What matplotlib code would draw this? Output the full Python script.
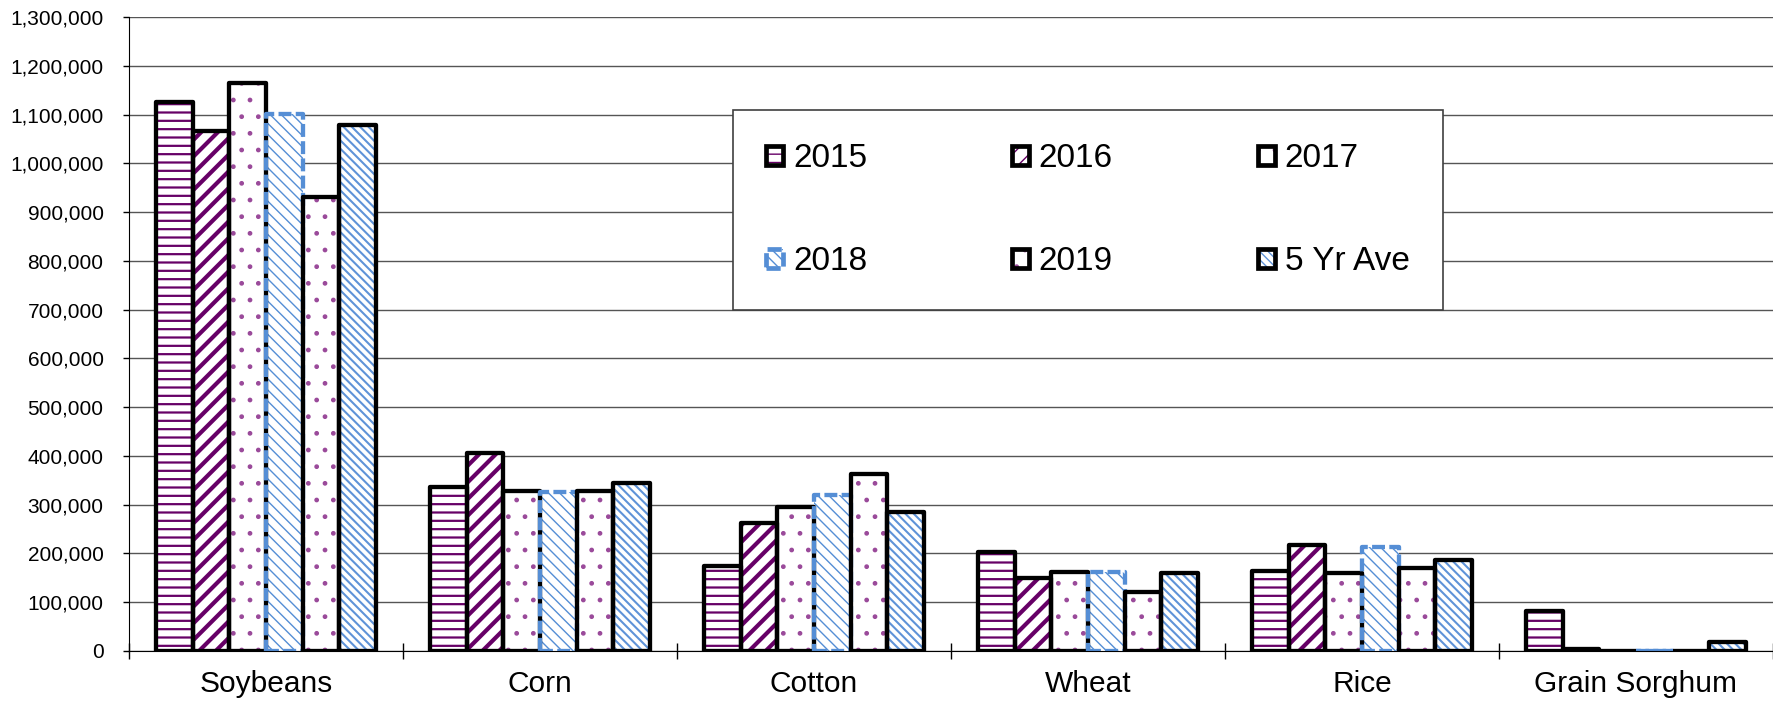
import numpy as np
import matplotlib
matplotlib.use("Agg")
import matplotlib.pyplot as plt
from matplotlib.patches import Patch
from matplotlib.legend_handler import HandlerTuple
from matplotlib.ticker import FuncFormatter

crops = ["Soybeans", "Corn", "Cotton", "Wheat", "Rice", "Grain Sorghum"]
years = ["2015", "2016", "2017", "2018", "2019", "5 Yr Ave"]
v2015 = [1125000, 337000, 175000, 203000, 165000, 82000]
v2016 = [1067000, 405000, 263000, 149000, 218000, 5000]
v2017 = [1165000, 328000, 295000, 163000, 160000, 1000]
v2018 = [1102000, 326000, 320000, 163000, 214000, 1000]
v2019 = [930000, 328000, 363000, 121000, 170000, 1000]
v5yr = [1079000, 345000, 284000, 160000, 186000, 18000]
series = [v2015, v2016, v2017, v2018, v2019, v5yr]

purple = "#660066"
dotc = "#9a4a9a"
blue = "#558ed5"
# hatch, hatch colour, hatch width, edge colour, edge style
styles = [
    ("--", purple, 1.6, "black", "solid"),
    ("//", purple, 3.0, "black", "solid"),
    (".", dotc, 1.0, "black", "solid"),
    ("\\\\\\", blue, 1.0, blue, (0, (3, 1))),
    (".", dotc, 1.0, "black", "solid"),
    ("\\\\\\\\", "#5f93d8", 1.5, "black", "solid"),
]

plt.rcParams["font.family"] = ["Liberation Sans", "DejaVu Sans"]

fig = plt.figure(figsize=(17.73, 7.04), dpi=100)
ax = fig.add_axes([129 / 1773, 1 - 651 / 704, (1773 - 129) / 1773, (651 - 17) / 704])

w = 0.134
xc = np.arange(len(crops)) + 0.5
handles = []
for i, vals in enumerate(series):
    h, hc, hlw, ec, ls = styles[i]
    x = xc + (i - 2.5) * w
    with plt.rc_context({"hatch.linewidth": hlw}):
        fill = ax.bar(x, vals, w, color="white", edgecolor=hc, hatch=h, linewidth=0, zorder=2)
        for p in fill:
            if hasattr(p, "set_hatch_linewidth"):
                p.set_hatch_linewidth(hlw)
        ax.bar(x, vals, w, fill=False, edgecolor=ec, linewidth=3.1, linestyle=ls,
               joinstyle="round", zorder=3)
        hp = Patch(facecolor="white", edgecolor=hc, hatch=h, linewidth=0)
        if hasattr(hp, "set_hatch_linewidth"):
            hp.set_hatch_linewidth(hlw)
    ep = Patch(fill=False, edgecolor=ec, linewidth=3.4, linestyle=ls, joinstyle="round")
    handles.append((hp, ep))

ax.set_xlim(0, 6)
ax.set_ylim(0, 1300000)
ax.set_yticks(np.arange(0, 1300001, 100000))
ax.yaxis.set_major_formatter(FuncFormatter(lambda v, p: "{:,.0f}".format(v)))
ax.grid(axis="y", color="#555555", linewidth=1.0)
ax.set_axisbelow(True)

ax.set_xticks(np.arange(7))
ax.set_xticklabels([])
ax.set_xticks(xc, minor=True)
ax.set_xticklabels(crops, minor=True, fontsize=21.5)
ax.tick_params(axis="x", which="major", direction="inout", length=11.5, width=1)
ax.tick_params(axis="x", which="minor", length=0, pad=14)
ax.tick_params(axis="y", direction="out", length=4.3, width=1, pad=14, labelsize=15)

for s in ["top", "right"]:
    ax.spines[s].set_visible(False)
ax.spines["left"].set_color("black")
ax.spines["bottom"].set_color("black")
ax.spines["bottom"].set_zorder(4)

order = [0, 3, 1, 4, 2, 5]
leg = fig.legend([handles[k] for k in order], [years[k] for k in order],
                 handler_map={tuple: HandlerTuple(ndivide=1, pad=0)},
                 loc="upper left", bbox_to_anchor=(733 / 1773, 1 - 110 / 704),
                 ncol=3, fontsize=24, handlelength=0.5, handleheight=0.5,
                 handletextpad=0.3, columnspacing=4.35, labelspacing=2.15,
                 borderpad=1.0, borderaxespad=0, fancybox=False, framealpha=1)
leg.get_frame().set_edgecolor("#404040")
leg.get_frame().set_linewidth(1.2)

plt.savefig("out.png", dpi=100)
